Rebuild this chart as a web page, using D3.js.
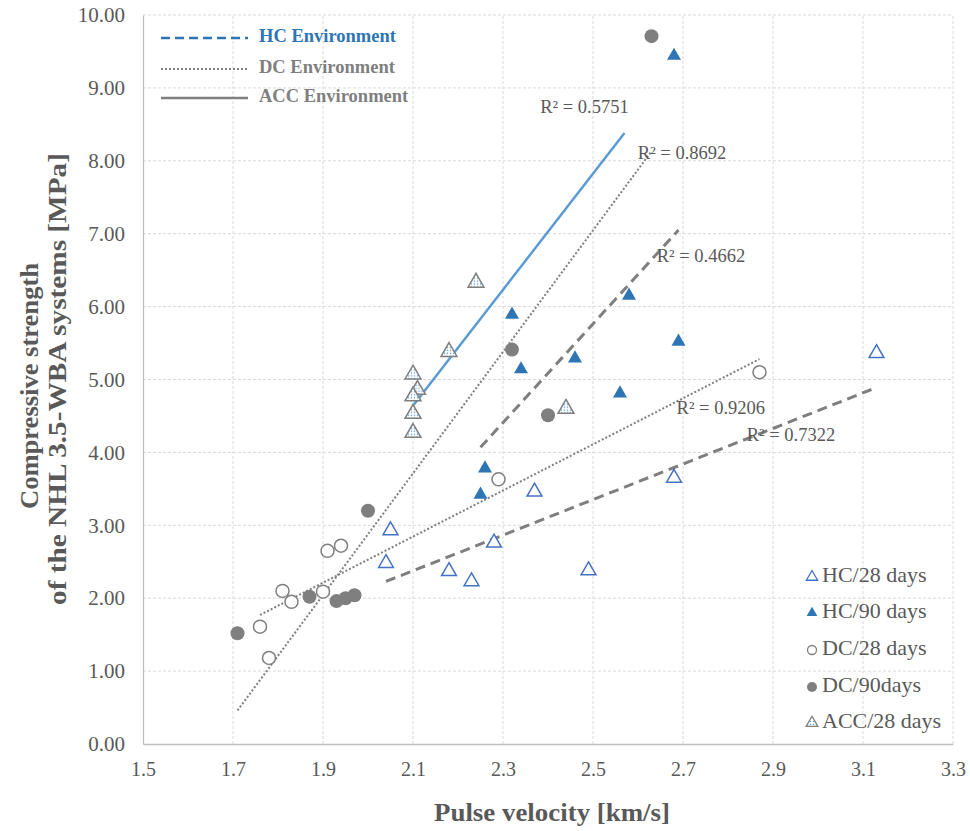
<!DOCTYPE html>
<html><head><meta charset="utf-8">
<script src="https://cdnjs.cloudflare.com/ajax/libs/d3/7.8.5/d3.min.js"></script>
<style>
html,body{margin:0;padding:0;background:#fff;}
svg{display:block;font-family:"Liberation Serif","Times New Roman",serif;}
</style></head>
<body><svg id="chart" width="970" height="831"></svg>
<script>
// ---------- DATA ----------
const xTicks = [1.5,1.7,1.9,2.1,2.3,2.5,2.7,2.9,3.1,3.3];
const yTicks = [0,1,2,3,4,5,6,7,8,9,10];

const hc28X = [2.05,2.04,2.18,2.23,2.28,2.37,2.49,2.68,3.13];
const hc28Y = [2.93,2.48,2.37,2.23,2.76,3.46,2.38,3.65,5.36];

const hc90X = [2.68,2.32,2.34,2.58,2.46,2.26,2.25,2.56,2.69];
const hc90Y = [9.44,5.89,5.14,6.15,5.29,3.78,3.42,4.81,5.52];

const dc28X = [1.91,1.94,1.81,1.83,1.90,1.76,1.78,2.29,2.87];
const dc28Y = [2.65,2.72,2.10,1.95,2.09,1.61,1.18,3.63,5.10];

const dc90X = [1.71,1.87,1.93,1.95,1.97,2.00,2.32,2.40,2.63];
const dc90Y = [1.52,2.02,1.96,2.00,2.04,3.20,5.41,4.51,9.71];

const acc28X = [2.24,2.18,2.10,2.11,2.10,2.10,2.10,2.44];
const acc28Y = [6.33,5.38,5.07,4.86,4.77,4.53,4.27,4.60];

// trendline end points [x, y]
const trendHC28 = [[2.04,2.23],[3.13,4.89]];
const trendHC90 = [[2.25,4.07],[2.69,7.05]];
const trendDC28 = [[1.76,1.77],[2.87,5.28]];
const trendDC90 = [[1.71,0.46],[2.63,8.13]];
const trendACC  = [[2.10,4.64],[2.57,8.38]];

const r2Text = ["R² = 0.5751","R² = 0.8692","R² = 0.4662","R² = 0.9206","R² = 0.7322"];
const r2X = [2.481,2.698,2.740,2.784,2.940];
const r2Y = [8.72,8.08,6.67,4.58,4.21];

const envLegend = ["HC Environment","DC Environment","ACC Environment"];
const seriesLegend = ["HC/28 days","HC/90 days","DC/28 days","DC/90days","ACC/28 days"];

const xTitle = "Pulse velocity [km/s]";
const yTitle1 = "Compressive strength";
const yTitle2 = "of the NHL 3.5-WBA systems [MPa]";

// ---------- CHART ----------
const W = 970, H = 831;
const m = {l:143, r:17, t:15, b:87};
const svg = d3.select("#chart");
const x = d3.scaleLinear().domain([1.5,3.3]).range([m.l, W-m.r]);
const y = d3.scaleLinear().domain([0,10]).range([H-m.b, m.t]);

const GRID = "#d9d9d9", AX = "#bfbfbf", TXT = "#595959";
const BLUE = "#2E75B6", LBLUE = "#4472C4", GRAY = "#7f7f7f", ACCL = "#5B9BD5";

// pattern for ACC markers
const defs = svg.append("defs");
const pat = defs.append("pattern").attr("id","dots").attr("patternUnits","userSpaceOnUse")
  .attr("width",3).attr("height",3);
pat.append("rect").attr("width",3).attr("height",3).attr("fill","#fff");
pat.append("circle").attr("cx",1.5).attr("cy",1.5).attr("r",0.75).attr("fill",ACCL);

// grid
const g = svg.append("g");
g.selectAll(".vg").data(xTicks.slice(1)).join("line")
  .attr("x1",d=>x(d)).attr("x2",d=>x(d)).attr("y1",y(0)).attr("y2",y(10))
  .attr("stroke",GRID).attr("stroke-width",1).attr("stroke-dasharray","3,2");
g.selectAll(".hg").data(yTicks.slice(1)).join("line")
  .attr("x1",x(1.5)).attr("x2",x(3.3)).attr("y1",d=>y(d)).attr("y2",d=>y(d))
  .attr("stroke",GRID).attr("stroke-width",1).attr("stroke-dasharray","3,2");

// axes
const xAxis = d3.axisBottom(x).tickValues(xTicks).tickSize(0).tickPadding(14).tickFormat(d3.format(".1f"));
const yAxis = d3.axisLeft(y).tickValues(yTicks).tickSize(0).tickPadding(18).tickFormat(d3.format(".2f"));
const gx = svg.append("g").attr("transform",`translate(0,${y(0)})`).call(xAxis);
const gy = svg.append("g").attr("transform",`translate(${x(1.5)},0)`).call(yAxis);
[gx,gy].forEach(a=>{
  a.select(".domain").attr("stroke",AX).attr("stroke-width",1.3);
  a.selectAll("text").attr("font-family","Liberation Serif").attr("fill",TXT);
});
gx.selectAll("text").attr("font-size",20).attr("dy","0.9em");
gy.selectAll("text").attr("font-size",21);

// axis titles
svg.append("text").attr("x",(x(1.5)+x(3.3))/2+4).attr("y",821)
  .attr("text-anchor","middle").attr("font-size",26).attr("font-weight","bold").attr("fill",TXT)
  .attr("textLength",236).attr("lengthAdjust","spacingAndGlyphs").text(xTitle);
svg.append("text").attr("transform",`translate(38,386) rotate(-90)`)
  .attr("text-anchor","middle").attr("font-size",25).attr("font-weight","bold").attr("fill",TXT)
  .attr("textLength",246).attr("lengthAdjust","spacingAndGlyphs").text(yTitle1);
svg.append("text").attr("transform",`translate(66,379) rotate(-90)`)
  .attr("text-anchor","middle").attr("font-size",25).attr("font-weight","bold").attr("fill",TXT)
  .attr("textLength",452).attr("lengthAdjust","spacingAndGlyphs").text(yTitle2);

// trendlines
const line = d3.line().x(d=>x(d[0])).y(d=>y(d[1]));
const tl = svg.append("g").attr("fill","none");
tl.append("path").datum(trendHC28).attr("d",line).attr("stroke",GRAY).attr("stroke-width",3).attr("stroke-dasharray","10,6");
tl.append("path").datum(trendHC90).attr("d",line).attr("stroke",GRAY).attr("stroke-width",3).attr("stroke-dasharray","10,6");
tl.append("path").datum(trendDC28).attr("d",line).attr("stroke",GRAY).attr("stroke-width",2).attr("stroke-dasharray","2,2");
tl.append("path").datum(trendDC90).attr("d",line).attr("stroke",GRAY).attr("stroke-width",2).attr("stroke-dasharray","2,2");
tl.append("path").datum(trendACC).attr("d",line).attr("stroke",ACCL).attr("stroke-width",2.5);

// markers
const tri = d3.symbol().type(d3.symbolTriangle);
const pts = svg.append("g");
function zip(a,b){return a.map((v,i)=>[v,b[i]]);}
pts.selectAll(".hc28").data(zip(hc28X,hc28Y)).join("path")
  .attr("d",tri.size(95)()).attr("transform",d=>`translate(${x(d[0])},${y(d[1])})`)
  .attr("fill","#fff").attr("stroke",LBLUE).attr("stroke-width",1.5);
pts.selectAll(".hc90").data(zip(hc90X,hc90Y)).join("path")
  .attr("d",tri.size(85)()).attr("transform",d=>`translate(${x(d[0])},${y(d[1])})`)
  .attr("fill",BLUE);
pts.selectAll(".dc28").data(zip(dc28X,dc28Y)).join("circle")
  .attr("cx",d=>x(d[0])).attr("cy",d=>y(d[1])).attr("r",6.5)
  .attr("fill","#fff").attr("stroke",GRAY).attr("stroke-width",1.5);
pts.selectAll(".dc90").data(zip(dc90X,dc90Y)).join("circle")
  .attr("cx",d=>x(d[0])).attr("cy",d=>y(d[1])).attr("r",7)
  .attr("fill",GRAY);
pts.selectAll(".acc").data(zip(acc28X,acc28Y)).join("path")
  .attr("d",tri.size(110)()).attr("transform",d=>`translate(${x(d[0])},${y(d[1])})`)
  .attr("fill","url(#dots)").attr("stroke",GRAY).attr("stroke-width",1.5);

// R² labels
svg.append("g").selectAll("text").data(r2Text).join("text")
  .attr("x",(d,i)=>x(r2X[i])).attr("y",(d,i)=>y(r2Y[i]))
  .attr("text-anchor","middle").attr("dominant-baseline","middle")
  .attr("font-size",18.5).attr("fill",TXT).text(d=>d);

// environment legend (top-left)
const el = svg.append("g");
const envY = [38,69,98];
const envStroke = [BLUE,GRAY,GRAY];
const envDash = ["9,5","2,2",null];
const envW = [2.5,2,2.5];
const envTxt = [BLUE,GRAY,GRAY];
envLegend.forEach((t,i)=>{
  el.append("line").attr("x1",161).attr("x2",248).attr("y1",envY[i]).attr("y2",envY[i])
    .attr("stroke",envStroke[i]).attr("stroke-width",envW[i]).attr("stroke-dasharray",envDash[i]);
  el.append("text").attr("x",259).attr("y",envY[i]).attr("dominant-baseline","middle")
    .attr("font-size",18.5).attr("font-weight","bold").attr("fill",envTxt[i]).text(t);
});

// series legend (bottom-right)
const sl = svg.append("g");
const sY = [577,613,650,687,723];
seriesLegend.forEach((t,i)=>{
  const cx = 812, cy = sY[i];
  if(i===0) sl.append("path").attr("d",tri.size(55)()).attr("transform",`translate(${cx},${cy})`).attr("fill","#fff").attr("stroke",LBLUE).attr("stroke-width",1.3);
  if(i===1) sl.append("path").attr("d",tri.size(50)()).attr("transform",`translate(${cx},${cy})`).attr("fill",BLUE);
  if(i===2) sl.append("circle").attr("cx",cx).attr("cy",cy).attr("r",4.5).attr("fill","#fff").attr("stroke",GRAY).attr("stroke-width",1.3);
  if(i===3) sl.append("circle").attr("cx",cx).attr("cy",cy).attr("r",5).attr("fill",GRAY);
  if(i===4) sl.append("path").attr("d",tri.size(60)()).attr("transform",`translate(${cx},${cy})`).attr("fill","url(#dots)").attr("stroke",GRAY).attr("stroke-width",1.3);
  sl.append("text").attr("x",822).attr("y",cy).attr("dominant-baseline","middle")
    .attr("font-size",22).attr("fill",TXT).text(t);
});
</script></body></html>
